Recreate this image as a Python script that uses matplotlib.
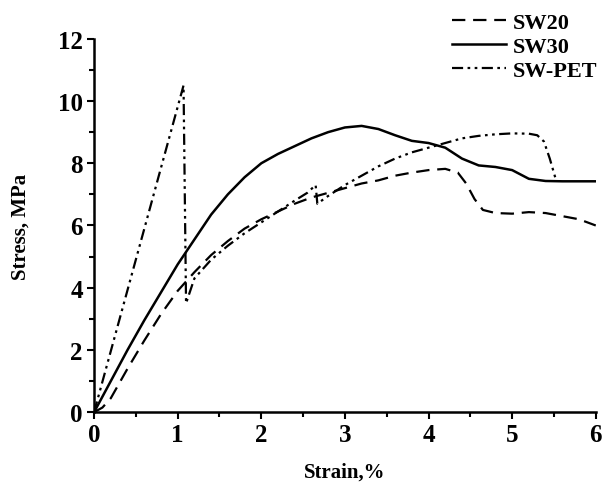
import numpy as np
from matplotlib import pyplot as plt

plt.rcParams['font.family'] = ['Liberation Serif', 'DejaVu Serif']
plt.rcParams['font.weight'] = 'bold'

# stress-strain curves (strain %, stress MPa)
sw20_x = [0, 0.1, 0.2, 0.4, 0.6, 0.8, 1.0, 1.2, 1.4, 1.6, 1.8, 2.0, 2.2, 2.4, 2.6, 2.8,
          3.0, 3.2, 3.4, 3.6, 3.8, 4.0, 4.2, 4.35, 4.45, 4.55, 4.65, 4.8, 5.0, 5.2, 5.4,
          5.6, 5.8, 6.0]
sw20_y = [0, 0.15, 0.45, 1.4, 2.3, 3.15, 3.9, 4.5, 5.05, 5.5, 5.9, 6.2, 6.45, 6.7, 6.9, 7.05,
          7.2, 7.35, 7.45, 7.6, 7.7, 7.78, 7.82, 7.7, 7.35, 6.85, 6.5, 6.4, 6.38, 6.43, 6.4,
          6.3, 6.2, 6.0]

sw30_x = [0, 0.2, 0.4, 0.6, 0.8, 1.0, 1.2, 1.4, 1.6, 1.8, 2.0, 2.2, 2.4, 2.6, 2.8, 3.0,
          3.2, 3.4, 3.6, 3.8, 4.0, 4.2, 4.4, 4.6, 4.8, 5.0, 5.2, 5.4, 5.6, 6.0]
sw30_y = [0, 1.0, 2.0, 2.95, 3.85, 4.75, 5.55, 6.35, 7.0, 7.55, 8.0, 8.3, 8.55, 8.8, 9.0, 9.15,
          9.2, 9.1, 8.9, 8.72, 8.65, 8.5, 8.15, 7.93, 7.88, 7.78, 7.5, 7.43, 7.42, 7.42]

pet_x = [0, 1.07, 1.1, 1.2, 1.4, 1.6, 1.8, 2.0, 2.2, 2.4, 2.55, 2.65, 2.67, 2.8, 3.0, 3.2,
         3.4, 3.6, 3.8, 4.0, 4.2, 4.4, 4.6, 4.8, 5.0, 5.2, 5.3, 5.38, 5.45, 5.52]
pet_y = [0, 10.5, 3.5, 4.3, 4.9, 5.35, 5.75, 6.1, 6.45, 6.8, 7.05, 7.3, 6.7, 6.95, 7.3, 7.6,
         7.9, 8.15, 8.35, 8.5, 8.65, 8.8, 8.88, 8.93, 8.96, 8.95, 8.9, 8.7, 8.15, 7.5]

fig = plt.figure(figsize=(6.03, 4.85), dpi=100)
ax = fig.add_axes([0.156, 0.148, 0.832, 0.77])

ax.plot(sw20_x, sw20_y, color='k', lw=1.6, linestyle=(0, (6, 3.5)), label='SW20')
ax.plot(sw30_x, sw30_y, color='k', lw=1.8, linestyle='-', label='SW30')
ax.plot(pet_x, pet_y, color='k', lw=1.6, linestyle=(0, (5, 2, 1.2, 2, 1.2, 2)), label='SW-PET')

ax.set_xlim(0, 6)
ax.set_ylim(0, 12)
ax.set_xticks(np.arange(0, 7, 1))
ax.set_yticks(np.arange(0, 13, 2))
ax.set_xticks(np.arange(0.5, 6, 1), minor=True)
ax.set_yticks(np.arange(1, 12, 2), minor=True)
ax.tick_params(which='major', direction='out', length=5, width=1.5, labelsize=18, pad=3)
ax.tick_params(which='minor', direction='out', length=3.5, width=1.5)
for s in ['top', 'right']:
    ax.spines[s].set_visible(False)
for s in ['left', 'bottom']:
    ax.spines[s].set_linewidth(1.8)

ax.set_xlabel('Strain,%', fontsize=15, fontweight='bold', labelpad=11)
ax.set_ylabel('Stress, MPa', fontsize=15, fontweight='bold', labelpad=20)

ax.legend(loc='upper right', bbox_to_anchor=(1.02, 1.095), frameon=False, fontsize=16,
          handlelength=2.4, handletextpad=0.3, labelspacing=0.15, borderaxespad=0)

fig.savefig('out.png', dpi=100)
